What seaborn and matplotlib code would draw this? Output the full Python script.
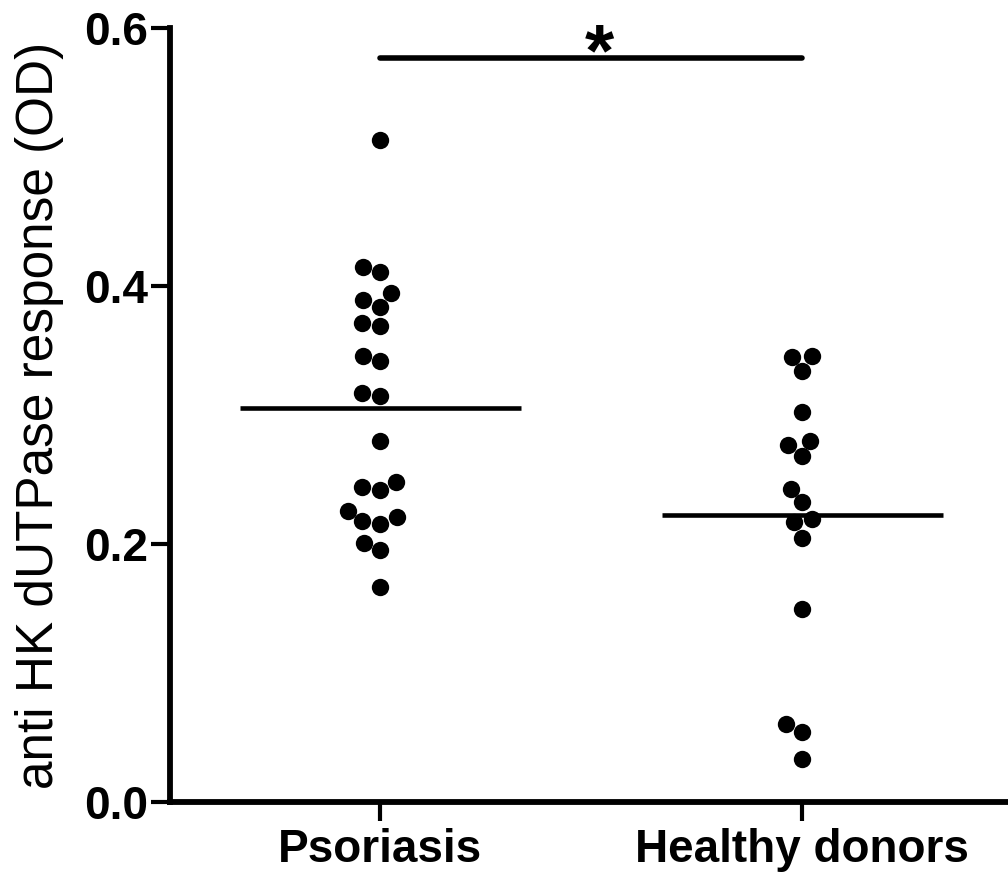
import matplotlib
matplotlib.use("Agg")
import matplotlib.pyplot as plt
import seaborn as sns
import pandas as pd

categories = ["Psoriasis", "Healthy donors"]
psoriasis = [0.513, 0.415, 0.411, 0.395, 0.389, 0.384, 0.371, 0.369, 0.3455,
             0.3416, 0.317, 0.3144, 0.280, 0.248, 0.244, 0.242, 0.226, 0.221,
             0.2177, 0.2157, 0.2006, 0.195, 0.167]
healthy = [0.345, 0.3455, 0.334, 0.302, 0.2767, 0.280, 0.268, 0.243, 0.2325,
           0.217, 0.2195, 0.205, 0.150, 0.0605, 0.054, 0.0333]
yticks = [0.0, 0.2, 0.4, 0.6]
ytick_labels = ["0.0", "0.2", "0.4", "0.6"]
ylabel = "anti HK dUTPase response (OD)"
sig_label = "*"
sig_y = 0.577

df = pd.DataFrame({
    "group": [categories[0]] * len(psoriasis) + [categories[1]] * len(healthy),
    "value": psoriasis + healthy,
})

sns.set_theme(style="ticks")
plt.rcParams["font.family"] = ["Liberation Sans", "DejaVu Sans"]
plt.rcParams["text.color"] = "black"
plt.rcParams["axes.labelcolor"] = "black"
plt.rcParams["xtick.color"] = "black"
plt.rcParams["ytick.color"] = "black"

fig = plt.figure(figsize=(10.08, 8.8), dpi=100)
ax = fig.add_axes([0.1687, 0.0886, 0.8313, 0.8795])

sns.swarmplot(data=df, x="group", y="value", order=categories, color="black",
              size=12.5, linewidth=0, ax=ax)

means = df.groupby("group")["value"].mean()
for i, cat in enumerate(categories):
    ax.hlines(means[cat], i - 0.333, i + 0.333, color="black", lw=3.3, zorder=3)

ax.plot([0, 1], [sig_y, sig_y], color="black", lw=4, solid_capstyle="round",
        clip_on=False)
ax.text(0.52, sig_y - 0.0134, sig_label, ha="center", va="baseline",
        fontsize=54, fontweight="bold", color="black")

ax.set_xlim(-0.498, 1.488)
ax.set_ylim(0, 0.6)
ax.set_yticks(yticks)
ax.set_yticklabels(ytick_labels)
ax.set_xlabel("")
ax.set_ylabel(ylabel, fontsize=37, labelpad=14, color="black")

for lab in ax.get_xticklabels() + ax.get_yticklabels():
    lab.set_fontweight("bold")
    lab.set_color("black")
ax.tick_params(axis="both", labelsize=33, width=3, length=14, color="black",
               labelcolor="black")
ax.tick_params(axis="y", pad=2)
ax.tick_params(axis="x", pad=5)

for s in ["top", "right"]:
    ax.spines[s].set_visible(False)
for s in ["left", "bottom"]:
    ax.spines[s].set_linewidth(4.2)
    ax.spines[s].set_color("black")

fig.savefig("out.png", dpi=100, facecolor="white")
